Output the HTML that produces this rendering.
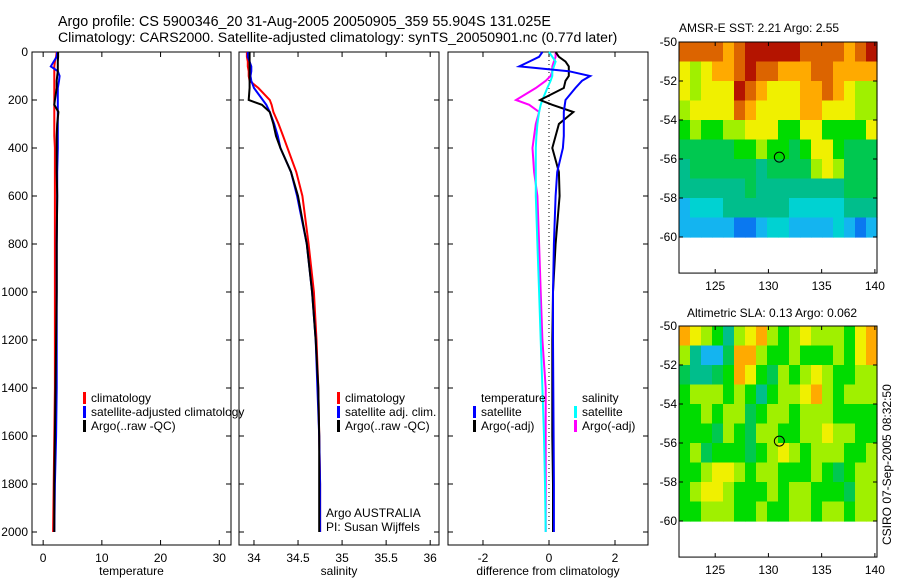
<!DOCTYPE html>
<html><head><meta charset="utf-8"><style>
body{margin:0;background:#fff}
svg{display:block;font-family:"Liberation Sans",sans-serif}
</style></head><body>
<svg id="s" width="900" height="580" viewBox="0 0 900 580">
<text x="58" y="26" font-size="14.3">Argo profile: CS 5900346_20 31-Aug-2005 20050905_359 55.904S 131.025E</text>
<text x="58" y="42" font-size="14.1">Climatology: CARS2000. Satellite-adjusted climatology: synTS_20050901.nc (0.77d later)</text>
<text x="679" y="32" font-size="12">AMSR-E SST: 2.21 Argo: 2.55</text>
<text x="687" y="317" font-size="12">Altimetric SLA: 0.13 Argo: 0.062</text>
<text transform="translate(891,545) rotate(-90)" font-size="12">CSIRO 07-Sep-2005 08:32:50</text>
</svg>
<script>
const depths=[0,20,40,60,80,100,120,150,200,220,250,300,350,400,500,600,800,1000,1200,1400,1600,1800,2000];
const tempClim=[2.3,2.2,2.0,1.9,1.9,1.9,1.9,1.9,1.9,1.9,1.9,1.9,1.9,2.0,2.0,2.0,2.0,2.0,2.0,2.0,1.9,1.8,1.7];
const tempSat=[2.4,2.3,1.8,1.3,2.5,2.8,2.7,2.5,2.5,2.5,2.5,2.5,2.5,2.5,2.4,2.4,2.3,2.3,2.3,2.3,2.2,2.0,1.9];
const tempArgo=[2.55,2.55,2.5,2.5,2.5,2.4,2.3,2.3,2.0,1.9,2.6,2.4,2.3,2.3,2.3,2.4,2.3,2.3,2.2,2.1,2.0,1.9,1.9];
const salClim=[33.92,33.92,33.93,33.93,33.94,33.94,33.95,34.05,34.18,34.2,34.22,34.28,34.33,34.38,34.48,34.55,34.62,34.68,34.71,34.73,34.74,34.75,34.75];
const salSat=[33.93,33.93,33.95,33.97,33.97,33.96,33.97,34.0,34.1,34.14,34.18,34.23,34.27,34.3,34.42,34.49,34.6,34.66,34.7,34.72,34.74,34.75,34.75];
const salArgo=[33.95,33.95,33.95,33.95,33.95,33.95,33.95,33.95,33.94,34.09,34.18,34.22,34.25,34.3,34.42,34.5,34.6,34.66,34.7,34.73,34.74,34.74,34.74];
const dTsat=[-0.2,-0.3,-0.6,-0.9,0.6,1.25,1.0,0.8,0.5,0.48,0.45,0.45,0.45,0.42,0.25,0.2,0.15,0.12,0.12,0.13,0.14,0.15,0.15];
const dTargo=[0.2,0.3,0.5,0.6,0.6,0.6,0.5,0.45,-0.27,0.1,0.74,0.3,0.2,0.1,0.3,0.32,0.2,0.12,0.1,0.1,0.1,0.12,0.12];
const dSsat=[0,0.1,0.2,0.15,0.1,0.1,0.05,-0.05,-0.2,-0.25,-0.3,-0.35,-0.38,-0.4,-0.4,-0.4,-0.35,-0.3,-0.25,-0.2,-0.15,-0.12,-0.1];
const dSargo=[0.2,0.2,0.15,0.1,0.1,0.05,-0.1,-0.4,-1.0,-0.6,-0.3,-0.4,-0.45,-0.5,-0.45,-0.35,-0.3,-0.25,-0.2,-0.1,-0.1,-0.1,-0.1];
const depthTicks=[0,200,400,600,800,1000,1200,1400,1600,1800,2000];
const tempTicks=[0,10,20,30];
const salTicks=[34,34.5,35,35.5,36];
const diffTicks=[-2,0,2];
const lonTicks=[125,130,135,140];
const latTicks=[-50,-52,-54,-56,-58,-60];
const sstGrid=["999989aaaaa999989a","767889a99888998888","76777a98777889876 6","67777987777887776 6","565566777557755557","444445565545775444","344444434444676444","333333433333333444","122233333322222333","111110012211112101"];
const slaGrid=["876536786567666578","631148865565556578","433458754656765566","566656535667865666","556566456656665555","555465466556676655","564555456765666556","556776566555654566","567765556566555466","556665565566566566"];
const floatLon=131.025, floatLat=-55.904;
const NS='http://www.w3.org/2000/svg', svg=document.getElementById('s');
function mk(tag,attrs,parent){const e=document.createElementNS(NS,tag);for(const k in attrs)e.setAttribute(k,attrs[k]);(parent||svg).appendChild(e);return e;}
const Y0=52,Y1=545,ys=d=>Y0+d*0.24;
const panels=[
 {x0:32,x1:231,lo:-1.9,hi:32,ticks:tempTicks,label:'temperature',name:'temperature-panel'},
 {x0:239,x1:439,lo:33.83,hi:36.1,ticks:salTicks,label:'salinity',name:'salinity-panel'},
 {x0:448,x1:648,lo:-3.06,hi:3.0,ticks:diffTicks,label:'difference from climatology',name:'difference-panel'}];
panels.forEach((p,i)=>{
 p.sx=v=>p.x0+(v-p.lo)/(p.hi-p.lo)*(p.x1-p.x0);
 const g=mk('g',{});
 
 
 const r=mk('rect',{x:p.x0,y:Y0,width:p.x1-p.x0,height:Y1-Y0,fill:'none',stroke:'#000','stroke-width':1},g);
 
 
 p.ticks.forEach(t=>{const x=p.sx(t);
  mk('line',{x1:x,x2:x,y1:Y1,y2:Y1-5,stroke:'#000'},g);mk('line',{x1:x,x2:x,y1:Y0,y2:Y0+5,stroke:'#000'},g);
  const tx=mk('text',{x:x,y:Y1+17,'font-size':12,'text-anchor':'middle'},g);tx.textContent=String(t);
  
  });
 depthTicks.forEach(d=>{const y=ys(d);
  mk('line',{x1:p.x0,x2:p.x0+5,y1:y,y2:y,stroke:'#000'},g);mk('line',{x1:p.x1,x2:p.x1-5,y1:y,y2:y,stroke:'#000'},g);
  if(i==0){const tx=mk('text',{x:28,y:y+4,'font-size':12,'text-anchor':'end'},g);tx.textContent=String(d);
  
  }});
 const lb=mk('text',{x:(p.x0+p.x1)/2,y:575,'font-size':12,'text-anchor':'middle'},g);lb.textContent=p.label;
 
 
});
function series(p,vals,color,name){const pts=vals.map((v,k)=>p.sx(v).toFixed(1)+','+ys(depths[k]).toFixed(1)).join(' ');
 const l=mk('polyline',{points:pts,fill:'none',stroke:color,'stroke-width':2});
 
 }
const P=panels;
mk('line',{x1:P[2].sx(0),x2:P[2].sx(0),y1:Y0,y2:ys(2000),stroke:'#000','stroke-dasharray':'1,3'});
series(P[0],tempClim,'#f00','temp-climatology-line');series(P[0],tempSat,'#00f','temp-satellite-line');series(P[0],tempArgo,'#000','temp-argo-line');
series(P[1],salClim,'#f00','sal-climatology-line');series(P[1],salSat,'#00f','sal-satellite-line');series(P[1],salArgo,'#000','sal-argo-line');
series(P[2],dSargo,'#f0f','dsal-argo-line');series(P[2],dSsat,'#0ff','dsal-satellite-line');series(P[2],dTargo,'#000','dtemp-argo-line');series(P[2],dTsat,'#00f','dtemp-satellite-line');
function leg(x,y,color,text){if(color){const m=mk('rect',{x:x,y:y-10,width:3,height:12,fill:color});
 
 }
 const t=mk('text',{x:x+(color?8:0),y:y,'font-size':12});t.textContent=text;
 
 }
leg(83,402,'#f00','climatology');leg(83,416,'#00f','satellite-adjusted climatology');leg(83,430,'#000','Argo(..raw -QC)');
leg(337,402,'#f00','climatology');leg(337,416,'#00f','satellite adj. clim.');leg(337,430,'#000','Argo(..raw -QC)');
leg(481,402,null,'temperature');leg(473,416,'#00f','satellite');leg(473,430,'#000','Argo(-adj)');
leg(582,402,null,'salinity');leg(574,416,'#0ff','satellite');leg(574,430,'#f0f','Argo(-adj)');
leg(326,517,null,'Argo AUSTRALIA');leg(326,531,null,'PI: Susan Wijffels');
const cmap=['#0a78f0','#14b4f0','#00d2d2','#00be8c','#00c850','#00dc00','#a0f000','#f0f000','#ffaa00','#dc6400','#b41400'];
function map(top,grid,name){const x0=679,x1=877,lonLo=121.6,lonHi=140.2,latTop=-50,pxDeg=19.5;
 const sx=l=>x0+(l-lonLo)/(lonHi-lonLo)*(x1-x0), sy=la=>top+(latTop-la)*pxDeg, bottom=sy(-61.85);
 const g=mk('g',{});
 
 
 grid.forEach((row,r)=>{const cells=row.replace(/ /g,'').slice(0,18).split('');
  cells.forEach((c,k)=>{const v=c=='a'?10:+c;const lonA=lonLo+k*(lonHi-lonLo)/18;
   const cell=mk('rect',{x:sx(lonA),y:sy(-50-r),width:(x1-x0)/18+0.6,height:pxDeg+0.6,fill:cmap[v]},g);
   
   });});
 mk('rect',{x:x0,y:top,width:x1-x0,height:bottom-top,fill:'none',stroke:'#000'},g);
 lonTicks.forEach(l=>{const x=sx(l);mk('line',{x1:x,x2:x,y1:bottom,y2:bottom-4,stroke:'#000'},g);mk('line',{x1:x,x2:x,y1:top,y2:top+4,stroke:'#000'},g);
  const t=mk('text',{x:x,y:bottom+17,'font-size':12,'text-anchor':'middle'},g);t.textContent=l;
  
  });
 latTicks.forEach(la=>{const y=sy(la);mk('line',{x1:x0,x2:x0+4,y1:y,y2:y,stroke:'#000'},g);mk('line',{x1:x1,x2:x1-4,y1:y,y2:y,stroke:'#000'},g);
  const t=mk('text',{x:x0-2,y:y+4,'font-size':12,'text-anchor':'end'},g);t.textContent=la;
  
  });
 const c=mk('circle',{cx:sx(floatLon),cy:sy(floatLat),r:5,fill:'none',stroke:'#000'},g);
 
 
}
map(42,sstGrid,'sst-map');map(326,slaGrid,'sla-map');
</script>
</body></html>
